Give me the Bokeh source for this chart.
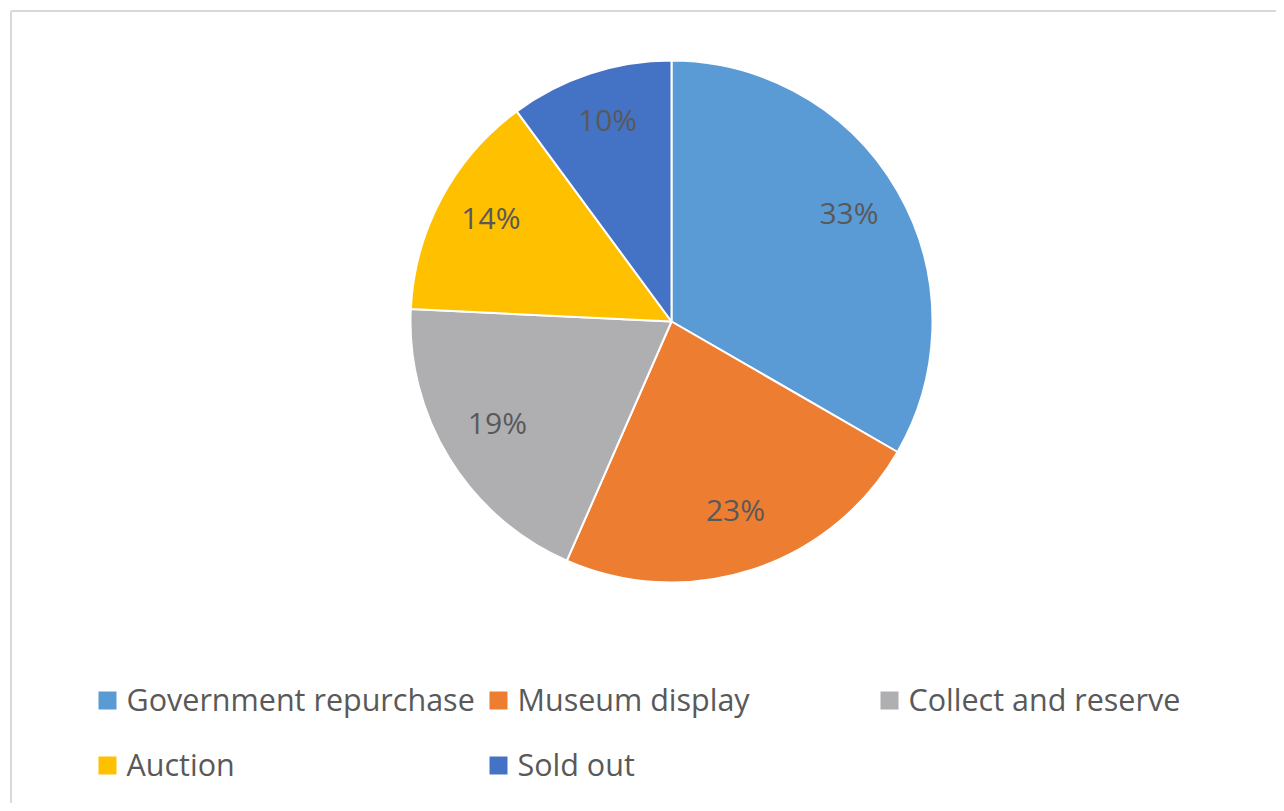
import math
from bokeh.plotting import figure
from bokeh.models import Range1d, ColumnDataSource
from bokeh.core.properties import value
from bokeh.embed import file_html
from bokeh.resources import INLINE

categories = ["Government repurchase", "Museum display", "Collect and reserve", "Auction", "Sold out"]
values = [33, 23, 19, 14, 10]
colors = ["#5B9BD5", "#ED7D31", "#AFAFB2", "#FFC000", "#4472C4"]

W, H = 1276, 803
p = figure(width=W, height=H, output_backend="svg", toolbar_location=None,
           x_range=Range1d(0, W), y_range=Range1d(0, H), min_border=0)
p.axis.visible = False
p.grid.visible = False
p.outline_line_color = None
p.background_fill_color = "white"
p.border_fill_color = "white"

def Y(page_y):
    return H - page_y

# frame border (left and top)
p.segment(x0=[10.5, 10.5], y0=[Y(10.5), Y(10.5)], x1=[10.5, 1300], y1=[-10, Y(10.5)],
          line_color="#d9d9d9", line_width=2)

cx, cy, R = 671, Y(321), 261
total = sum(values)
starts, ends, mids = [], [], []
cum = 0.0
for v in values:
    a0 = math.pi / 2 - 2 * math.pi * cum / total
    cum += v
    a1 = math.pi / 2 - 2 * math.pi * cum / total
    starts.append(a0)
    ends.append(a1)
    mids.append((a0 + a1) / 2)

src = ColumnDataSource(dict(start=starts, end=ends, color=colors, cat=categories))
p.wedge(x=cx, y=cy, radius=R, start_angle="start", end_angle="end", direction="clock",
        fill_color="color", line_color="white", line_width=2, source=src)

lr = 0.785 * R
lx = [cx + lr * math.cos(m) for m in mids]
ly = [cy + lr * math.sin(m) + 7 for m in mids]
labels = [f"{v}%" for v in values]
p.text(x=lx, y=ly, text=labels, text_align="center", text_baseline="middle",
       text_font=value("Open Sans"), text_font_size="30px", text_color="#595959")

# legend
leg_x = [107, 498, 889, 107, 498]
leg_y = [Y(700), Y(700), Y(700), Y(765), Y(765)]
p.scatter(x=leg_x, y=leg_y, marker="square", size=18, fill_color=colors, line_color=None)
p.text(x=[x + 19 for x in leg_x], y=[y + 2 for y in leg_y], text=categories, text_align="left",
       text_baseline="middle", text_font=value("Open Sans"), text_font_size="30.5px",
       text_color="#595959")

open("out.html", "w").write(file_html(p, INLINE))
